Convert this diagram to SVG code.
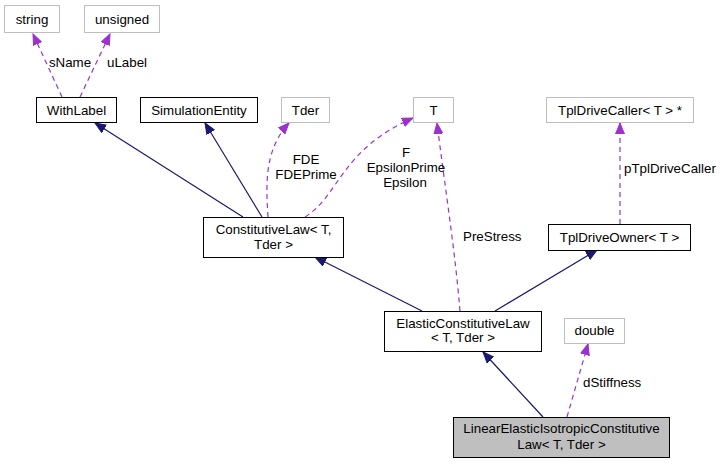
<svg xmlns="http://www.w3.org/2000/svg" width="720" height="464" viewBox="0 0 720 464">
<style>
text{font-family:"Liberation Sans",Arial,sans-serif;font-size:13.33px;fill:#000}
.n rect{fill:#fff;stroke:#000;stroke-width:1}
.g rect{fill:#fff;stroke:#bfbfbf;stroke-width:1}
.f rect{fill:#bfbfbf;stroke:#000;stroke-width:1}
.c text{text-anchor:middle}
.inh{fill:none;stroke:#191970;stroke-width:1.2;marker-end:url(#ah)}
.use{fill:none;stroke:#9a32cd;stroke-width:1.2;stroke-dasharray:5,4;marker-end:url(#ap)}
</style>
<defs>
<marker id="ah" markerUnits="userSpaceOnUse" markerWidth="12" markerHeight="10" refX="11" refY="5" orient="auto" viewBox="0 0 12 10">
<path d="M0,0.5 L11,5 L0,9.5 Z" fill="#191970" stroke="#191970"/>
</marker>
<marker id="ap" markerUnits="userSpaceOnUse" markerWidth="12" markerHeight="10" refX="11" refY="5" orient="auto" viewBox="0 0 12 10">
<path d="M0,0.5 L11,5 L0,9.5 Z" fill="#9a32cd" stroke="#9a32cd"/>
</marker>
</defs>
<rect width="720" height="464" fill="#fff"/>
<g id="connectors">
<path class="use" d="M62,97 L33,34"/>
<path class="use" d="M80,97 L110,34"/>
<path class="inh" d="M243,217 L95,123"/>
<path class="inh" d="M262,217 L205,123"/>
<path class="use" d="M268,217 C266,185 264,150 289,123"/>
<path class="use" d="M305,217 C340,195 340,150 413,118"/>
<path class="use" d="M460,311 C455,250 444,180 437,123"/>
<path class="use" d="M620,224 L620,123"/>
<path class="inh" d="M422,311 L315,257"/>
<path class="inh" d="M495,311 L597,250"/>
<path class="inh" d="M543,417 L483,352"/>
<path class="use" d="M567,417 L588,344"/>
<g class="c">
<text x="70" y="67">sName</text>
<text x="127" y="67">uLabel</text>
<text x="306" y="164">FDE</text>
<text x="306" y="179">FDEPrime</text>
<text x="406" y="157">F</text>
<text x="406" y="172">EpsilonPrime</text>
<text x="405" y="187">Epsilon</text>
</g>
<text x="463" y="241">PreStress</text>
<text x="624" y="173">pTplDriveCaller</text>
<text x="583" y="387">dStiffness</text>
</g>
<g id="string" class="g c"><rect x="4.5" y="5.5" width="55" height="27"/><text x="32" y="23.5">string</text></g>
<g id="unsigned" class="g c"><rect x="84.5" y="5.5" width="75" height="27"/><text x="122" y="23.5">unsigned</text></g>
<g id="WithLabel" class="n c"><rect x="36.5" y="97.5" width="80" height="25"/><text x="76.5" y="114.5">WithLabel</text></g>
<g id="SimulationEntity" class="n c"><rect x="140.5" y="97.5" width="117" height="25"/><text x="199" y="114.5">SimulationEntity</text></g>
<g id="Tder" class="g c"><rect x="281.5" y="97.5" width="48" height="25"/><text x="305.5" y="114.5">Tder</text></g>
<g id="T" class="g c"><rect x="413.5" y="97.5" width="40" height="25"/><text x="433.5" y="114.5">T</text></g>
<g id="TplDriveCaller" class="g c"><rect x="546.5" y="97.5" width="147" height="25"/><text x="620" y="114.5">TplDriveCaller&lt; T &gt; *</text></g>
<g id="ConstitutiveLaw" class="n c"><rect x="203.5" y="217.5" width="140" height="40"/><text x="273.5" y="234">ConstitutiveLaw&lt; T,</text><text x="273.5" y="249">Tder &gt;</text></g>
<g id="TplDriveOwner" class="n c"><rect x="548.5" y="224.5" width="142" height="26"/><text x="619.5" y="242">TplDriveOwner&lt; T &gt;</text></g>
<g id="ElasticConstitutiveLaw" class="n c"><rect x="384.5" y="311.5" width="157" height="40"/><text x="463" y="328">ElasticConstitutiveLaw</text><text x="463" y="342">&lt; T, Tder &gt;</text></g>
<g id="double" class="g c"><rect x="564.5" y="318.5" width="60" height="25"/><text x="594.5" y="335">double</text></g>
<g id="LinearElasticIsotropicConstitutiveLaw" class="f c"><rect x="453.5" y="417.5" width="216" height="40"/><text x="561.5" y="433">LinearElasticIsotropicConstitutive</text><text x="561.5" y="448.5">Law&lt; T, Tder &gt;</text></g>
</svg>
